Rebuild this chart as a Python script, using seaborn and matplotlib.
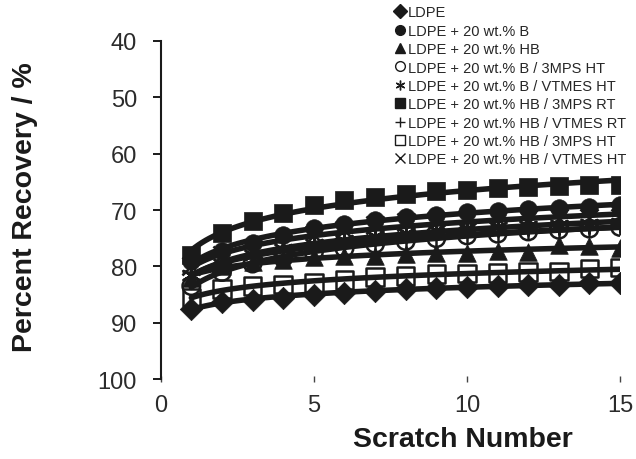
import numpy as np
import pandas as pd
import matplotlib
matplotlib.use("Agg")
import matplotlib.pyplot as plt
from matplotlib.lines import Line2D
import seaborn as sns

# Scratch number (x) and percent recovery per formulation
scratch = [1, 2, 3, 4, 5, 6, 7, 8, 9, 10, 11, 12, 13, 14, 15]

labels = [
    "LDPE",
    "LDPE + 20 wt.% B",
    "LDPE + 20 wt.% HB",
    "LDPE + 20 wt.% B / 3MPS HT",
    "LDPE + 20 wt.% B / VTMES HT",
    "LDPE + 20 wt.% HB / 3MPS RT",
    "LDPE + 20 wt.% HB / VTMES RT",
    "LDPE + 20 wt.% HB / 3MPS HT",
    "LDPE + 20 wt.% HB / VTMES HT",
]

ldpe = [87.5, 86.3, 86.0, 85.6, 85.0, 84.8, 84.3, 84.0, 83.9, 83.6, 83.5, 83.4, 83.3, 83.0, 83.0]
b = [79.0, 77.3, 75.8, 74.5, 73.2, 72.4, 71.8, 71.2, 70.8, 70.4, 70.1, 69.8, 69.6, 69.4, 69.2]
hb = [82.0, 80.0, 79.3, 78.8, 78.4, 78.2, 78.1, 77.8, 77.6, 77.6, 77.3, 77.4, 76.2, 76.4, 76.8]
b_3mps_ht = [83.5, 81.0, 79.5, 78.5, 77.5, 76.8, 76.0, 75.5, 75.0, 74.5, 74.2, 73.8, 73.5, 73.3, 73.0]
b_vtmes_ht = [81.5, 79.5, 78.0, 77.0, 76.0, 75.3, 74.6, 74.0, 73.6, 73.2, 73.0, 72.8, 72.6, 72.5, 72.3]
hb_3mps_rt = [78.0, 74.0, 72.0, 70.5, 69.2, 68.3, 67.7, 67.2, 66.7, 66.4, 66.1, 65.9, 65.7, 65.6, 65.5]
hb_vtmes_rt = [81.0, 79.5, 78.5, 77.5, 76.8, 76.2, 75.6, 75.2, 74.8, 74.2, 74.0, 73.6, 73.4, 73.2, 72.8]
hb_3mps_ht = [85.5, 84.0, 83.5, 83.2, 83.0, 82.4, 81.9, 81.7, 81.4, 81.3, 81.2, 81.0, 80.9, 80.4, 80.2]
hb_vtmes_ht = [80.0, 78.0, 77.0, 76.0, 74.5, 73.5, 72.6, 72.2, 72.0, 71.7, 71.6, 71.6, 71.5, 71.5, 71.5]

series = [ldpe, b, hb, b_3mps_ht, b_vtmes_ht, hb_3mps_rt, hb_vtmes_rt, hb_3mps_ht, hb_vtmes_ht]

# marker, filled?
styles = [
    ("D", True),
    ("o", True),
    ("^", True),
    ("o", False),
    ((6, 2, 0), False),
    ("s", True),
    ("+", False),
    ("s", False),
    ("x", False),
]

sns.set_theme(style="white")
plt.rcParams["font.family"] = ["Liberation Sans", "DejaVu Sans"]

fig = plt.figure(figsize=(6.36, 4.6), dpi=100)
ax = fig.add_axes([0.2527, 0.1739, 0.7222, 0.7348])

ink = "#1a1a1a"
for vals, lab, (mk, filled) in zip(series, labels, styles):
    df = pd.DataFrame({"x": scratch, "y": vals})
    # logarithmic trend line through each series
    coef = np.polyfit(np.log(df["x"]), df["y"], 1)
    xs = np.linspace(1, 15, 120)
    trend = pd.DataFrame({"x": xs, "y": coef[0] * np.log(xs) + coef[1]})
    sns.lineplot(data=trend, x="x", y="y", ax=ax, color=ink, lw=4.0, zorder=3)
    if filled:
        size = 130 if mk == "D" else 160
        sns.scatterplot(data=df, x="x", y="y", ax=ax, marker=mk, s=size,
                        color=ink, edgecolor=ink, linewidth=0.5, zorder=2)
    elif mk in ("o", "s"):
        sns.scatterplot(data=df, x="x", y="y", ax=ax, marker=mk, s=160,
                        facecolors="none", edgecolor=ink, linewidth=1.8, zorder=2)
    else:
        sns.scatterplot(data=df, x="x", y="y", ax=ax, marker=mk, s=170,
                        color=ink, linewidth=1.8, zorder=2)

ax.set_xlim(0, 15)
ax.set_ylim(100, 40)
ax.set_xticks([0, 5, 10, 15])
ax.set_yticks([40, 50, 60, 70, 80, 90, 100])

for side in ("top", "right", "bottom"):
    ax.spines[side].set_visible(False)
ax.spines["left"].set_color(ink)
ax.spines["left"].set_linewidth(1.5)

ax.tick_params(axis="y", direction="out", length=6, width=1.4, color=ink,
               labelsize=17, labelcolor="#2b2b2b", pad=11, left=True)
ax.tick_params(axis="x", direction="inout", length=5, width=1.0, color="#444444",
               labelsize=17, labelcolor="#2b2b2b", pad=8, bottom=True)

ax.set_xlabel("Scratch Number", fontsize=20.5, fontweight="bold", color=ink, va="center")
ax.xaxis.set_label_coords(0.658, -0.178)
ax.set_ylabel("Percent Recovery / %", fontsize=20.5, fontweight="bold", color=ink, va="center")
ax.yaxis.set_label_coords(-0.295, 0.51)

handles = []
for lab, (mk, filled) in zip(labels, styles):
    if filled:
        h = Line2D([], [], ls="none", marker=mk, ms=7, color=ink, mec=ink)
    elif mk in ("o", "s"):
        h = Line2D([], [], ls="none", marker=mk, ms=7, mfc="none", mec=ink, mew=1.0)
    else:
        h = Line2D([], [], ls="none", marker=mk, ms=7, color=ink, mew=1.0)
    handles.append(h)

fig.legend(handles, labels, loc="upper left", bbox_to_anchor=(0.621, 0.986),
           frameon=False, fontsize=10.5, handlelength=0.7, handletextpad=0.2,
           labelspacing=0.3, borderpad=0, borderaxespad=0)

fig.savefig("out.png", dpi=100)
